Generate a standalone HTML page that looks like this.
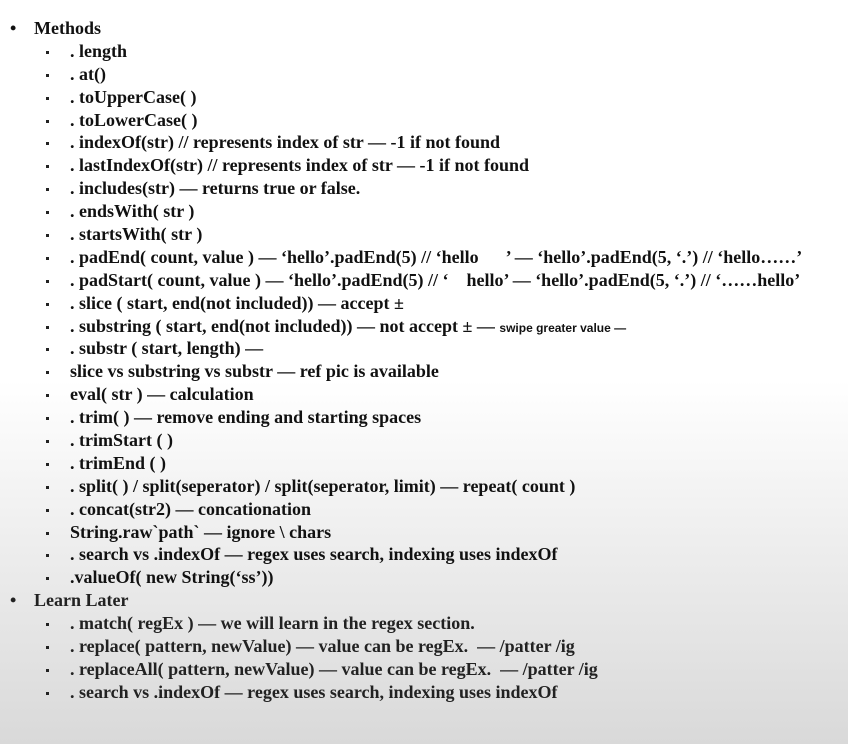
<!DOCTYPE html>
<html><head><meta charset="utf-8"><style>
html,body{margin:0;padding:0}
body{width:848px;height:744px;overflow:hidden;background:linear-gradient(to bottom,#fff 0px,#fff 380px,#ececec 560px,#d9d9d9 744px);font-family:"Liberation Serif",serif;font-weight:bold;font-size:18px;color:#111;position:relative}
#list{position:absolute;left:0;top:17px;width:848px}
.r{height:22.9px;line-height:22.9px;position:relative;white-space:nowrap;letter-spacing:0}
.l1{padding-left:34px}
.l1::before{content:"•";position:absolute;left:10px;font-size:18px}
.l2{padding-left:70px}
.l2::before{content:"";position:absolute;left:46px;top:11px;width:3px;height:3px;background:#222}
.s{font-family:"Liberation Sans",sans-serif;font-size:12px;letter-spacing:0}
.ll{color:#222}
</style></head><body><div id="list">
<div class="r l1">Methods</div>
<div class="r l2">. length</div>
<div class="r l2">. at()</div>
<div class="r l2">. toUpperCase( )</div>
<div class="r l2">. toLowerCase( )</div>
<div class="r l2">. indexOf(str) // represents index of str — -1 if not found</div>
<div class="r l2">. lastIndexOf(str) // represents index of str — -1 if not found</div>
<div class="r l2">. includes(str) — returns true or false.</div>
<div class="r l2">. endsWith( str )</div>
<div class="r l2">. startsWith( str )</div>
<div class="r l2">. padEnd( count, value ) — ‘hello’.padEnd(5) // ‘hello &nbsp;&nbsp;&nbsp;&nbsp;&nbsp;’ — ‘hello’.padEnd(5, ‘.’) // ‘hello……’</div>
<div class="r l2">. padStart( count, value ) — ‘hello’.padEnd(5) // ‘ &nbsp;&nbsp;&nbsp;hello’ — ‘hello’.padEnd(5, ‘.’) // ‘……hello’</div>
<div class="r l2">. slice ( start, end(not included)) — accept ±</div>
<div class="r l2">. substring ( start, end(not included)) — not accept ± — <span class="s">swipe greater value —</span></div>
<div class="r l2">. substr ( start, length) —</div>
<div class="r l2">slice vs substring vs substr — ref pic is available</div>
<div class="r l2">eval( str ) — calculation</div>
<div class="r l2">. trim( ) — remove ending and starting spaces</div>
<div class="r l2">. trimStart ( )</div>
<div class="r l2">. trimEnd ( )</div>
<div class="r l2">. split( ) / split(seperator) / split(seperator, limit) — repeat( count )</div>
<div class="r l2">. concat(str2) — concationation</div>
<div class="r l2">String.raw`path` — ignore \ chars</div>
<div class="r l2">. search vs .indexOf — regex uses search, indexing uses indexOf</div>
<div class="r l2">.valueOf( new String(‘ss’))</div>
<div class="r l1 ll">Learn Later</div>
<div class="r l2 ll">. match( regEx ) — we will learn in the regex section.</div>
<div class="r l2 ll">. replace( pattern, newValue) — value can be regEx. &nbsp;— /patter /ig</div>
<div class="r l2 ll">. replaceAll( pattern, newValue) — value can be regEx. &nbsp;— /patter /ig</div>
<div class="r l2 ll">. search vs .indexOf — regex uses search, indexing uses indexOf</div>
</div></body></html>
